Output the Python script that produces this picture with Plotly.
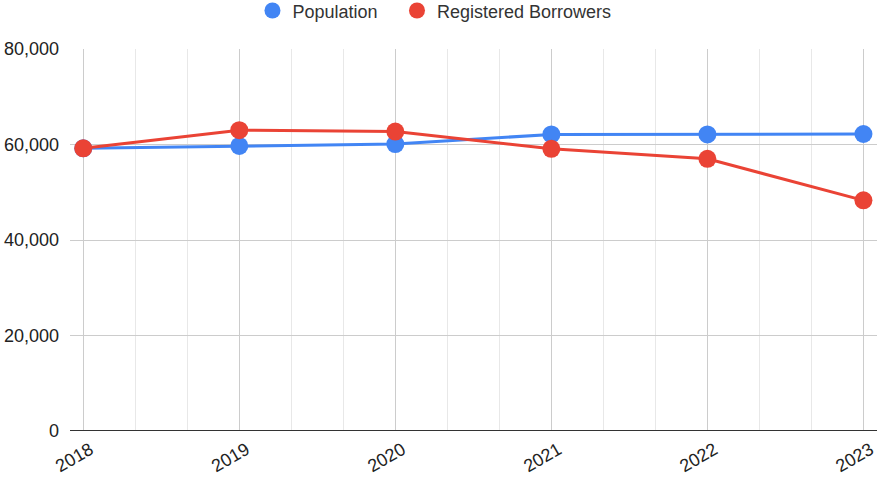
import plotly.graph_objects as go

years = [2018, 2019, 2020, 2021, 2022, 2023]
population = [59200, 59700, 60100, 62100, 62100, 62200]
borrowers = [59200, 63000, 62700, 59100, 57000, 48300]
y_ticks = [0, 20000, 40000, 60000, 80000]
y_tick_labels = ["0", "20,000", "40,000", "60,000", "80,000"]

BLUE = "#4285F4"
RED = "#EA4335"
FONT = "Liberation Sans, Arial, sans-serif"

fig = go.Figure()
fig.add_trace(go.Scatter(x=years, y=population, mode="lines+markers", name="Population",
                         line=dict(color=BLUE, width=3), marker=dict(size=18, color=BLUE),
                         showlegend=False))
fig.add_trace(go.Scatter(x=years, y=borrowers, mode="lines+markers", name="Registered Borrowers",
                         line=dict(color=RED, width=3), marker=dict(size=18, color=RED),
                         showlegend=False))
# legend-only entries (circle symbols like the original)
fig.add_trace(go.Scatter(x=[None], y=[None], mode="markers", name="Population",
                         marker=dict(size=19, color=BLUE), legend="legend"))
fig.add_trace(go.Scatter(x=[None], y=[None], mode="markers", name="Registered Borrowers",
                         marker=dict(size=19, color=RED), legend="legend2"))

leg_common = dict(orientation="h", xanchor="left", y=1.1, yanchor="middle",
                  font=dict(size=18, color="#333333"), bgcolor="rgba(0,0,0,0)")

fig.update_layout(
    width=877, height=479,
    margin=dict(l=70, r=0, t=49, b=48, autoexpand=False),
    paper_bgcolor="white", plot_bgcolor="white",
    font=dict(family=FONT, size=18, color="#222222"),
    legend=dict(x=0.2261, **leg_common),
    legend2=dict(x=0.4052, **leg_common),
    xaxis=dict(range=[2017.915, 2023.087], tickvals=years, ticktext=[str(y) for y in years],
               tickangle=-30, showgrid=True, gridcolor="#cccccc", gridwidth=1,
               minor=dict(dtick=1/3, tick0=2018, showgrid=True, gridcolor="#e8e8e8", gridwidth=1),
               zeroline=False, showline=False, ticks="", fixedrange=True,
               ticklabelshift=7, ticklabelstandoff=4),
    yaxis=dict(range=[0, 80000], tickvals=y_ticks, ticktext=y_tick_labels,
               showgrid=True, gridcolor="#cccccc", gridwidth=1,
               zeroline=False, showline=False, ticks="", ticklabelstandoff=10),
)
# baseline at 0
fig.add_shape(type="line", xref="paper", yref="y", x0=0, x1=1, y0=0, y1=0,
              line=dict(color="#333333", width=2), layer="above")

fig.write_html("out.html", config={"displayModeBar": False},
               post_script="document.body.style.margin='0px';")
